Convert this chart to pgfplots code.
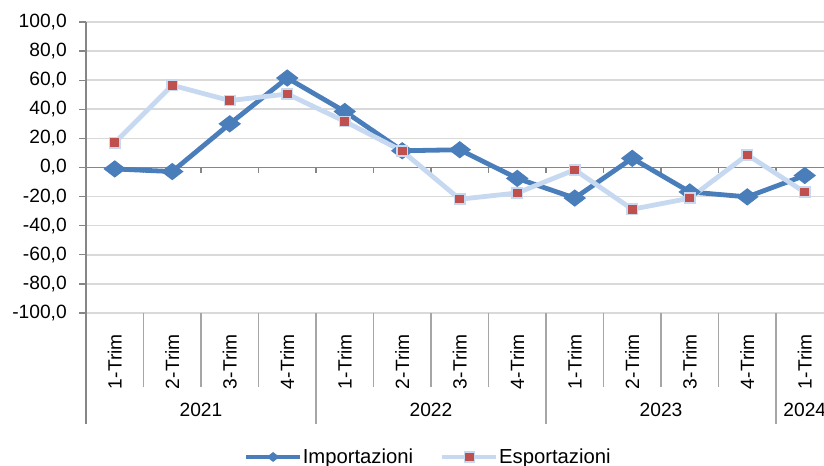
\documentclass[border=0pt]{standalone}
\usepackage{fontspec}
\setmainfont{Liberation Sans}
\usepackage{pgfplots}
\pgfplotsset{compat=1.18}
\definecolor{impc}{HTML}{4A7EBB}
\definecolor{espc}{HTML}{C6D9F1}
\definecolor{espm}{HTML}{C0504D}
\definecolor{gridc}{HTML}{D9D9D9}
\definecolor{axc}{HTML}{868686}
\definecolor{sepc}{HTML}{A6A6A6}
\pgfdeclareplotmark{wdiamond*}{%
  \pgfpathmoveto{\pgfqpoint{1.3\pgfplotmarksize}{0pt}}%
  \pgfpathlineto{\pgfqpoint{0pt}{\pgfplotmarksize}}%
  \pgfpathlineto{\pgfqpoint{-1.3\pgfplotmarksize}{0pt}}%
  \pgfpathlineto{\pgfqpoint{0pt}{-\pgfplotmarksize}}%
  \pgfpathclose\pgfusepathqfillstroke}
\newcommand{\fs}{\fontsize{14.4}{17}\selectfont}
\newcommand{\fl}{\fontsize{15.2}{18}\selectfont}
\begin{document}
\begin{tikzpicture}
\useasboundingbox (0,0) rectangle (618pt,349.5pt);
\clip (0,0) rectangle (618pt,349.5pt);
\begin{axis}[
  at={(64.5pt,114.75pt)}, anchor=south west,
  scale only axis, width=560.625pt, height=218.25pt,
  xmin=0, xmax=13, ymin=-100, ymax=100,
  ytick distance=20,
  xtick={0.5,1.5,2.5,3.5,4.5,5.5,6.5,7.5,8.5,9.5,10.5,11.5,12.5},
  xticklabels={1-Trim,2-Trim,3-Trim,4-Trim,1-Trim,2-Trim,3-Trim,4-Trim,1-Trim,2-Trim,3-Trim,4-Trim,1-Trim},
  axis x line*=bottom, axis y line*=left,
  x axis line style={draw=none},
  y axis line style={draw=axc, line width=1.1pt},
  major x tick style={draw=none},
  major y tick style={draw=axc, line width=1pt},
  tick align=outside, major tick length=5.25pt,
  ymajorgrids, grid style={gridc, line width=1.2pt},
  tick label style={font=\fs},
  yticklabel style={inner sep=0pt, anchor=east, /pgf/number format/.cd, fixed, fixed zerofill, precision=1, use comma, assume math mode=true},
  yticklabel shift=9pt,
  xticklabel style={rotate=90, anchor=east, inner sep=0pt},
  xticklabel shift=10.5pt,
  clip=false,
  legend columns=2,
  legend style={at={(axis description cs:0.2106,-0.4948)}, anchor=west, draw=none, fill=none, inner sep=0pt, font=\fl,
    /tikz/every odd column/.append style={column sep=-1.8pt},
    /tikz/every even column/.append style={column sep=18.2pt}},
  legend image code/.code={\draw[mark repeat=2,mark phase=2] plot coordinates {(0pt,0pt) (20.25pt,0pt) (40.5pt,0pt)};},
]
\draw[axc, line width=1.1pt] (axis cs:0,0) -- (axis cs:13,0);
\pgfplotsinvokeforeach{1,...,12}{\draw[axc, line width=0.9pt] (axis cs:#1,0) -- ([yshift=-4.5pt]axis cs:#1,0);}
\pgfplotsinvokeforeach{1,2,3,5,6,7,9,10,11}{\draw[sepc, line width=0.8pt] (axis cs:#1,-100) -- ([yshift=-55.5pt]axis cs:#1,-100);}
\pgfplotsinvokeforeach{4,8,12}{\draw[sepc, line width=0.8pt] (axis cs:#1,-100) -- ([yshift=-83.25pt]axis cs:#1,-100);}
\draw[axc, line width=1.1pt] (axis cs:0,-100) -- ([yshift=-83.25pt]axis cs:0,-100);
\node[font=\fs, yshift=-72.75pt] at (axis cs:2,-100) {2021};
\node[font=\fs, yshift=-72.75pt] at (axis cs:6,-100) {2022};
\node[font=\fs, yshift=-72.75pt] at (axis cs:10,-100) {2023};
\node[font=\fs, yshift=-72.75pt] at (axis cs:12.5,-100) {2024};
\addplot[impc, line width=3.6pt, mark=wdiamond*, mark size=6pt,
  mark options={fill=impc, draw=impc, line width=0.8pt},
  legend image post style={mark size=3.2pt}]
  coordinates {(0.5,-1) (1.5,-2.8) (2.5,30) (3.5,61.5) (4.5,38.5) (5.5,11.5) (6.5,12.2) (7.5,-7.5) (8.5,-21) (9.5,6.3) (10.5,-16.8) (11.5,-20.2) (12.5,-5.5)};
\addlegendentry{Importazioni}
\addplot[espc, line width=3.6pt, mark=square*, mark size=3.8pt,
  mark options={fill=espm, draw=espc, line width=1.2pt}]
  coordinates {(0.5,17) (1.5,56.5) (2.5,46) (3.5,50.5) (4.5,31.7) (5.5,11.3) (6.5,-21.8) (7.5,-17.5) (8.5,-1.6) (9.5,-28.7) (10.5,-21.1) (11.5,8.7) (12.5,-17)};
\addlegendentry{Esportazioni}
\end{axis}
\end{tikzpicture}
\end{document}
